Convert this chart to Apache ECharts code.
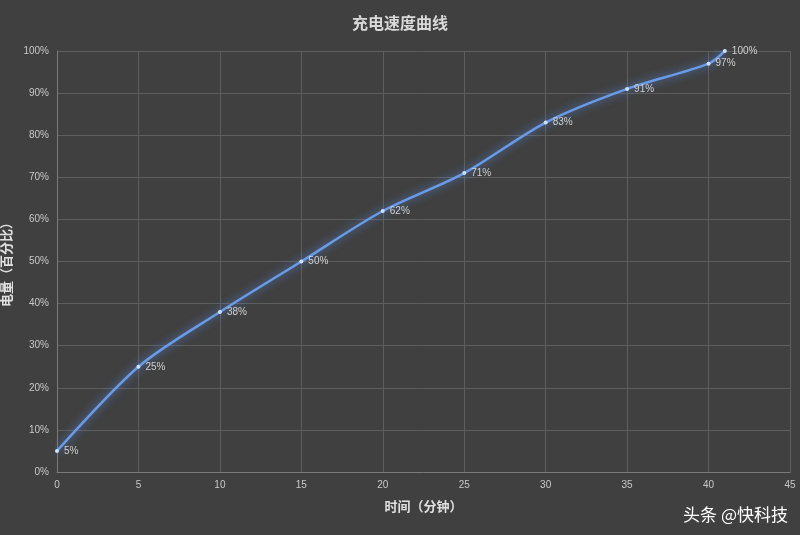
<!DOCTYPE html>
<html><head><meta charset="utf-8">
<script src="https://cdn.jsdelivr.net/npm/echarts@6/dist/echarts.min.js"></script>
<style>html,body{margin:0;padding:0;background:#3f3f3f}#c{width:800px;height:535px}</style>
</head><body><div id="c"></div>
<script>
const minutes = [0, 5, 10, 15, 20, 25, 30, 35, 40, 41];
const charge = [5, 25, 38, 50, 62, 71, 83, 91, 97, 100];
const chart = echarts.init(document.getElementById('c'));
const font = '"Noto Sans CJK SC", sans-serif';
chart.setOption({
  backgroundColor: '#404040',
  title: { text: '充电速度曲线', left: 'center', top: 10,
    textStyle: { color: '#d9d9d9', fontSize: 16, fontWeight: 'bold', fontFamily: font } },
  grid: { left: 57, right: 10, top: 51, bottom: 63, containLabel: false, outerBoundsMode: 'none' },
  xAxis: { type: 'value', min: 0, max: 45, interval: 5,
    name: '时间（分钟）', nameLocation: 'middle', nameGap: 28,
    nameTextStyle: { color: '#e0e0e0', fontWeight: 'bold', fontSize: 13, fontFamily: font },
    axisLine: { lineStyle: { color: '#7a7a7a' } }, axisTick: { show: false },
    axisLabel: { color: '#c8c8c8', fontSize: 10 },
    splitLine: { show: true, lineStyle: { color: '#5e5e5e' } } },
  yAxis: { type: 'value', min: 0, max: 100, interval: 10,
    name: '电量（百分比）', nameLocation: 'middle', nameGap: 40,
    nameTextStyle: { color: '#e0e0e0', fontWeight: 'bold', fontSize: 13, fontFamily: font },
    axisLine: { show: true, lineStyle: { color: '#7a7a7a' } }, axisTick: { show: false },
    axisLabel: { color: '#c8c8c8', fontSize: 10, formatter: '{value}%' },
    splitLine: { lineStyle: { color: '#5e5e5e' } } },
  series: [{ type: 'line', smooth: 0.3, data: minutes.map((m, i) => [m, charge[i]]),
    symbol: 'circle', symbolSize: 4,
    itemStyle: { color: '#cfe0ff' },
    lineStyle: { color: '#6a9be6', width: 2.5, shadowColor: 'rgba(90,150,255,0.8)', shadowBlur: 8 },
    label: { show: true, position: 'right', color: '#d0d0d0', fontSize: 10, formatter: p => p.value[1] + '%' } }],
  graphic: [{ type: 'text', right: 12, bottom: 12,
    style: { text: '头条 @快科技', fill: '#ffffff', font: '17px "Noto Sans CJK SC"' } }]
});
</script></body></html>
